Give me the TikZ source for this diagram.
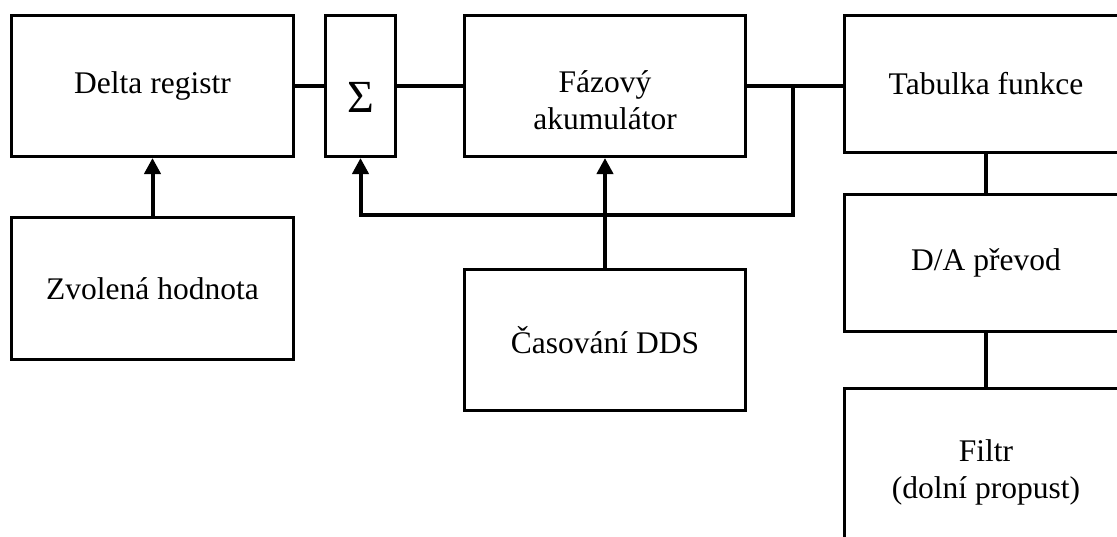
\documentclass[tikz,border=0pt]{standalone}
\usepackage{fontspec}
\setmainfont{Liberation Serif}
\usetikzlibrary{arrows.meta}
\begin{document}
\begin{tikzpicture}[x=1pt,y=-1pt,
  txt/.style={font=\fontsize{31.5}{37}\selectfont,align=center,inner sep=0pt},
  box/.style={draw,line width=3pt,inner sep=0pt,txt},
  conn/.style={line width=4pt},
  arr/.style={line width=4pt,-{Triangle[length=16pt,width=16pt]}}]
\useasboundingbox (0,0) rectangle (1117,536);
\clip (0,0) rectangle (1117,536);
% boxes
\node[box,minimum width=282pt,minimum height=141pt] (delta) at (152.5,86) {Delta registr};
\node[box,minimum width=70pt,minimum height=141pt,
      label={[txt,font=\fontsize{46}{50}\selectfont,yshift=-11pt]center:Σ}] (sigma) at (360.5,86) {};
\node[box,minimum width=281pt,minimum height=141pt,
      label={[txt,yshift=-14pt]center:Fázový\\akumulátor}] (fazovy) at (605,86) {};
\node[box,minimum width=283pt,minimum height=137pt] (tabulka) at (986,84) {Tabulka funkce};
\node[box,minimum width=283pt,minimum height=137pt] (da) at (986,263) {D/A převod};
\node[box,minimum width=283pt,minimum height=167pt] (filtr) at (986,472) {Filtr\\(dolní propust)};
\node[box,minimum width=282pt,minimum height=142pt] (zvolena) at (152.5,288.5) {Zvolená hodnota};
\node[box,minimum width=281pt,minimum height=141pt] (casovani) at (605,340) {Časování DDS};
% connectors
\coordinate (branch) at (793,86);
\coordinate (fbcorner) at (793,215);
\draw[conn] (delta.east) -- (sigma.west);
\draw[conn] (sigma.east) -- (fazovy.west);
\draw[conn] (fazovy.east) -- (fazovy.east -| tabulka.west);
\draw[conn] (tabulka.south) -- (da.north);
\draw[conn] (da.south) -- (filtr.north);
\draw[arr] (zvolena.north) -- (delta.south);
\draw[arr] (casovani.north) -- (fazovy.south);
\draw[arr,line join=miter] (branch) -- (fbcorner) -| (sigma.south);
\end{tikzpicture}
\end{document}
